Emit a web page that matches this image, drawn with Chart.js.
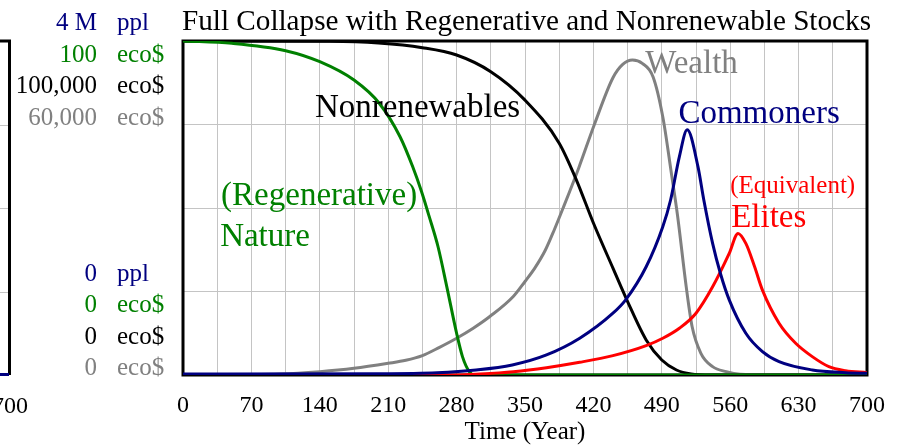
<!DOCTYPE html>
<html>
<head>
<meta charset="utf-8">
<script src="https://cdn.jsdelivr.net/npm/chart.js@4/dist/chart.umd.min.js"></script>
<style>
html,body{margin:0;padding:0;background:#ffffff;}
#wrap{width:901px;height:448px;position:relative;}
</style>
</head>
<body>
<div id="wrap"><canvas id="c" width="901" height="448"></canvas></div>
<script>
// ---------- DATA ----------
const chartTitle = 'Full Collapse with Regenerative and Nonrenewable Stocks';
const xAxisTitle = 'Time (Year)';
const timeMin = 0, timeMax = 700, gridStep = 35, labelStep = 70;

// (Regenerative) Nature, eco$
const natureYears  = [0, 50, 105, 140, 175, 201, 222, 235, 244, 252, 261, 270, 280, 286, 293, 298, 700];
const natureValues = [100, 99.3, 97.1, 93.8, 88.3, 81.3, 71.4, 62.4, 55, 47.4, 38.4, 26.4, 12.5, 5.5, 1, 0, 0];

// Nonrenewables, eco$
const nonrenYears  = [0, 150, 200, 245, 280, 315, 350, 385, 402, 420, 440, 455, 474, 490, 505, 520, 540, 700];
const nonrenValues = [100000, 99900, 99400, 98000, 95800, 90800, 82300, 69400, 58800, 45500, 32000, 22000, 10500, 4500, 1500, 300, 0, 0];

// Wealth, eco$
const wealthYears  = [0, 100, 140, 175, 210, 228, 245, 262, 280, 297, 314, 338, 350, 360, 371, 380, 389, 405, 421, 440, 450, 460, 470, 481, 491, 500, 506, 515, 521, 530, 542, 556, 570, 600, 700];
const wealthValues = [0, 180, 600, 1200, 2100, 2640, 3480, 4920, 6600, 8400, 10500, 14100, 16800, 19200, 22500, 26100, 30000, 37200, 45000, 53400, 55800, 56580, 55980, 53580, 46380, 36000, 28800, 15840, 8700, 3900, 1500, 600, 120, 0, 0];

// Commoners, ppl
const commonersYears  = [0, 200, 260, 300, 337, 372, 406, 440, 453, 474, 491, 499, 508, 516, 527, 533, 542, 550, 559, 576, 593, 610, 644, 678, 700];
const commonersValues = [12000, 16000, 28000, 60000, 120000, 240000, 440000, 740000, 900000, 1296000, 1776000, 2096000, 2616000, 2936000, 2496000, 2096000, 1576000, 1216000, 900000, 500000, 280000, 160000, 60000, 28000, 20000];

// (Equivalent) Elites, ppl
const elitesYears  = [0, 280, 304, 338, 372, 406, 440, 474, 491, 508, 525, 542, 559, 568, 576, 585, 593, 610, 627, 644, 661, 678, 700];
const elitesValues = [0, 0, 12000, 40000, 88000, 152000, 232000, 352000, 440000, 560000, 740000, 1056000, 1456000, 1696000, 1576000, 1296000, 1016000, 620000, 380000, 220000, 100000, 52000, 28000];

// axis ranges (left stacked labels)
const axisIds    = ['yP', 'yN', 'yR', 'yW'];
const axisMins   = [0, 0, 0, 0];
const axisMaxs   = [4000000, 100, 100000, 60000];
const axisUnits  = ['ppl', 'eco$', 'eco$', 'eco$'];

// ---------- STYLE ----------
const C_NAVY = '#000080', C_GREEN = '#008000', C_BLACK = '#000000', C_GRAY = '#808080', C_RED = '#ff0000';
const axisColors = [C_NAVY, C_GREEN, C_BLACK, C_GRAY];
const SERIF = '"Liberation Serif", "Times New Roman", serif';

function pts(xs, ys) { return xs.map((x, i) => ({x: x, y: ys[i]})); }

// in-plot labels: anchored in (year, fraction of plot height)
const plotLabels = [
  {text: 'Nonrenewables',  t: 135, f: 0.772, color: C_BLACK, size: 33},
  {text: '(Regenerative)', t: 39,  f: 0.509, color: C_GREEN, size: 33},
  {text: 'Nature',         t: 38,  f: 0.386, color: C_GREEN, size: 33},
  {text: 'Wealth',         t: 473, f: 0.903, color: C_GRAY,  size: 33},
  {text: 'Commoners',      t: 507, f: 0.755, color: C_NAVY,  size: 33},
  {text: '(Equivalent)',   t: 560, f: 0.544, color: C_RED,   size: 25},
  {text: 'Elites',         t: 561, f: 0.442, color: C_RED,   size: 33}
];

function fmt(v) {
  if (v >= 1000000) return (v / 1000000) + ' M';
  return v.toLocaleString('en-US');
}

const overlay = {
  id: 'overlay',
  beforeDatasetsDraw(chart) {
    const ctx = chart.ctx, a = chart.chartArea;
    ctx.save();
    ctx.strokeStyle = '#000';
    ctx.lineWidth = 3;
    ctx.strokeRect(a.left, a.top, a.right - a.left, a.bottom - a.top);
    // edge of neighbouring (cut-off) panel at far left
    ctx.strokeStyle = '#c4c4c4';
    ctx.lineWidth = 1;
    const h = a.bottom - a.top;
    [0.25, 0.5, 0.75].forEach(f => {
      const y = Math.round(a.top + h * f) + 0.5;
      ctx.beginPath(); ctx.moveTo(0, y); ctx.lineTo(8, y); ctx.stroke();
    });
    ctx.strokeStyle = '#000';
    ctx.lineWidth = 3;
    ctx.beginPath();
    ctx.moveTo(0, a.top); ctx.lineTo(9.5, a.top); ctx.lineTo(9.5, a.bottom);
    ctx.stroke();
    ctx.strokeStyle = C_NAVY;
    ctx.beginPath(); ctx.moveTo(0, a.bottom - 0.5); ctx.lineTo(9, a.bottom - 0.5); ctx.stroke();
    ctx.restore();
  },
  afterDraw(chart) {
    const ctx = chart.ctx, a = chart.chartArea, xs = chart.scales.x;
    ctx.save();
    ctx.fillStyle = '#000';
    ctx.textBaseline = 'alphabetic';
    ctx.textAlign = 'left';
    ctx.font = '29.2px ' + SERIF;
    ctx.fillText(chartTitle, a.left - 1, 30);
    ctx.font = '25px ' + SERIF;
    const step = 31.5;
    axisIds.forEach((id, i) => {
      const sc = chart.scales[id];
      ctx.fillStyle = axisColors[i];
      const yTop = a.top - 11 + i * step;
      const yBot = a.bottom - (axisIds.length - 1 - i) * step;
      ctx.textAlign = 'right';
      ctx.fillText(fmt(sc.max), 97, yTop);
      ctx.fillText(fmt(sc.min), 97, yBot);
      ctx.textAlign = 'left';
      ctx.fillText(axisUnits[i], 117, yTop);
      ctx.fillText(axisUnits[i], 117, yBot);
    });
    ctx.font = '24px ' + SERIF;
    ctx.fillStyle = '#000';
    ctx.textAlign = 'center';
    ctx.fillText(String(timeMax), 10, 413);
    ctx.textAlign = 'left';
    plotLabels.forEach(l => {
      ctx.font = l.size + 'px ' + SERIF;
      ctx.fillStyle = l.color;
      const x = xs.getPixelForValue(l.t);
      const y = a.bottom - l.f * (a.bottom - a.top);
      ctx.fillText(l.text, x, y);
    });
    ctx.restore();
  }
};

const lineStyle = {borderWidth: 3, pointRadius: 0, fill: false, cubicInterpolationMode: 'monotone'};

new Chart(document.getElementById('c'), {
  type: 'line',
  data: {
    datasets: [
      Object.assign({label: 'Commoners', data: pts(commonersYears, commonersValues), borderColor: C_NAVY, yAxisID: 'yP'}, lineStyle),
      Object.assign({label: 'Elites', data: pts(elitesYears, elitesValues), borderColor: C_RED, yAxisID: 'yP'}, lineStyle),
      Object.assign({label: 'Nature', data: pts(natureYears, natureValues), borderColor: C_GREEN, yAxisID: 'yN'}, lineStyle),
      Object.assign({label: 'Nonrenewables', data: pts(nonrenYears, nonrenValues), borderColor: C_BLACK, yAxisID: 'yR'}, lineStyle),
      Object.assign({label: 'Wealth', data: pts(wealthYears, wealthValues), borderColor: C_GRAY, yAxisID: 'yW'}, lineStyle)
    ]
  },
  options: {
    responsive: false,
    animation: false,
    devicePixelRatio: 1,
    layout: {padding: {left: 183, right: 33, top: 41, bottom: 0}},
    plugins: {legend: {display: false}, tooltip: {enabled: false}, title: {display: false}},
    scales: {
      x: {
        type: 'linear', min: timeMin, max: timeMax,
        grid: {color: '#c4c4c4', lineWidth: 1, drawTicks: false},
        border: {display: false},
        ticks: {
          stepSize: gridStep, autoSkip: false, maxRotation: 0, padding: 16,
          color: '#000', font: {family: SERIF, size: 24},
          callback: v => (v % labelStep === 0 ? String(v) : '')
        },
        title: {display: true, text: xAxisTitle, color: '#000', font: {family: SERIF, size: 25}, padding: {top: 0, bottom: 1}},
        afterFit: s => { s.height = 73; }
      },
      yN: {
        type: 'linear', position: 'left', min: axisMins[1], max: axisMaxs[1],
        grid: {color: '#c4c4c4', lineWidth: 1, drawTicks: false},
        border: {display: false},
        ticks: {display: false, stepSize: 25},
        afterFit: s => { s.width = 0; }
      },
      yP: {type: 'linear', display: false, min: axisMins[0], max: axisMaxs[0]},
      yR: {type: 'linear', display: false, min: axisMins[2], max: axisMaxs[2]},
      yW: {type: 'linear', display: false, min: axisMins[3], max: axisMaxs[3]}
    }
  },
  plugins: [overlay]
});
</script>
</body>
</html>
